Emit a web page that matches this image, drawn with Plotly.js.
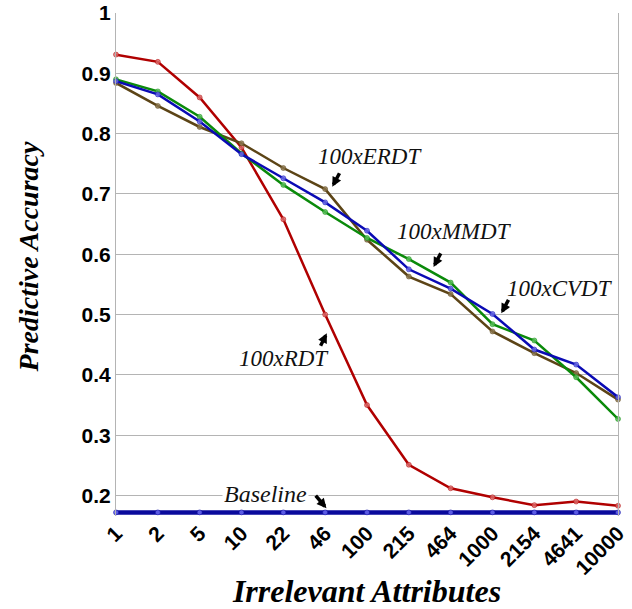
<!DOCTYPE html>
<html>
<head>
<meta charset="utf-8">
<script src="https://cdn.plot.ly/plotly-3.0.1.min.js"></script>
<style>html,body{margin:0;padding:0;background:#fff}#chart{width:632px;height:609px}</style>
</head>
<body>
<div id="chart"></div>
<script>
const categories = ["1","2","5","10","22","46","100","215","464","1000","2154","4641","10000"];
const rdt  = [0.931,0.919,0.860,0.777,0.658,0.500,0.350,0.251,0.212,0.197,0.184,0.190,0.183];
const mmdt = [0.890,0.870,0.828,0.767,0.715,0.670,0.627,0.592,0.553,0.484,0.457,0.396,0.327];
const cvdt = [0.887,0.865,0.820,0.766,0.726,0.686,0.639,0.575,0.543,0.501,0.442,0.417,0.363];
const erdt = [0.884,0.846,0.811,0.784,0.743,0.708,0.624,0.563,0.534,0.472,0.436,0.403,0.359];
const baseline = [0.172,0.172,0.172,0.172,0.172,0.172,0.172,0.172,0.172,0.172,0.172,0.172,0.172];
const yTicks = [0.2,0.3,0.4,0.5,0.6,0.7,0.8,0.9,1];
const yTickLabels = ["0.2","0.3","0.4","0.5","0.6","0.7","0.8","0.9","1"];

function series(y, color, mcolor, width, msize) {
  return {
    x: categories, y: y, type: 'scatter', mode: 'lines+markers',
    line: {color: color, width: width},
    marker: {color: mcolor, size: msize, line: {color: color, width: 0.5}},
    cliponaxis: false, hoverinfo: 'none'
  };
}

const traces = [
  series(baseline, '#0a0a9c', 'rgba(100,100,235,0.9)', 4.5, 5),
  series(rdt, '#b00000', 'rgba(220,110,110,0.8)', 2.5, 5),
  series(erdt, '#5c4416', 'rgba(140,120,80,0.8)', 2.5, 5),
  series(mmdt, '#0a8a0a', 'rgba(90,190,90,0.8)', 2.5, 5),
  series(cvdt, '#0a0ab4', 'rgba(110,110,230,0.8)', 2.5, 5)
];

const serif = '"Liberation Serif", "DejaVu Serif", serif';
function label(text, x, y, size, bg) {
  return {text: text, x: x, y: y, xref: 'x', yref: 'y', showarrow: false,
    font: {family: serif, size: size, color: '#111'}, bgcolor: bg || 'rgba(0,0,0,0)',
    borderpad: 1};
}
function arrow(x, y, ax, ay) {
  return {text: '', x: x, y: y, xref: 'x', yref: 'y', ax: ax, ay: ay,
    showarrow: true, arrowhead: 2, arrowsize: 0.55, arrowwidth: 3.5, arrowcolor: '#000'};
}

const annotations = [
  label('<i>100xERDT</i>', 6.08, 0.762, 23),
  arrow(5.17, 0.712, 8, -15),
  label('<i>100xMMDT</i>', 8.09, 0.637, 23),
  arrow(7.59, 0.579, 8, -15),
  label('<i>100xCVDT</i>', 10.62, 0.543, 23, 'rgba(255,255,255,0.85)'),
  arrow(9.21, 0.502, 8, -15),
  label('<i>100xRDT</i>', 4.02, 0.427, 23),
  arrow(5.04, 0.469, -7, 14),
  label('<i>Baseline</i>', 3.57, 0.203, 24, '#ffffff'),
  arrow(5.03, 0.179, -12, -14),
  {text: '<b><i>Predictive Accuracy</i></b>', xref: 'paper', yref: 'paper',
   x: -0.1753, y: 0.516, xanchor: 'center', yanchor: 'middle', textangle: -90,
   showarrow: false, font: {family: serif, size: 28, color: '#000'}}
];

const layout = {
  width: 632, height: 609,
  margin: {l: 116, r: 14, t: 13, b: 93},
  paper_bgcolor: '#fff', plot_bgcolor: '#fff',
  showlegend: false,
  xaxis: {
    type: 'category', range: [0, 12], showgrid: false, zeroline: false,
    showline: false, ticks: '', tickangle: -45,
    tickfont: {family: '"Liberation Sans", Arial, sans-serif', size: 21, color: '#000', weight: 'bold'},
    title: {text: '<b><i>Irrelevant Attributes</i></b>', font: {family: serif, size: 32, color: '#000'}, standoff: 10}
  },
  yaxis: {
    range: [0.166, 1.0], tickvals: yTicks, ticktext: yTickLabels,
    showgrid: true, gridcolor: '#b4b4b4', gridwidth: 1, zeroline: false,
    showline: true, linecolor: '#b4b4b4', linewidth: 1, mirror: true, ticks: '',
    tickfont: {family: '"Liberation Sans", Arial, sans-serif', size: 21, color: '#000', weight: 'bold'}
  },
  annotations: annotations
};

Plotly.newPlot('chart', traces, layout, {staticPlot: true, displayModeBar: false});
</script>
</body>
</html>
